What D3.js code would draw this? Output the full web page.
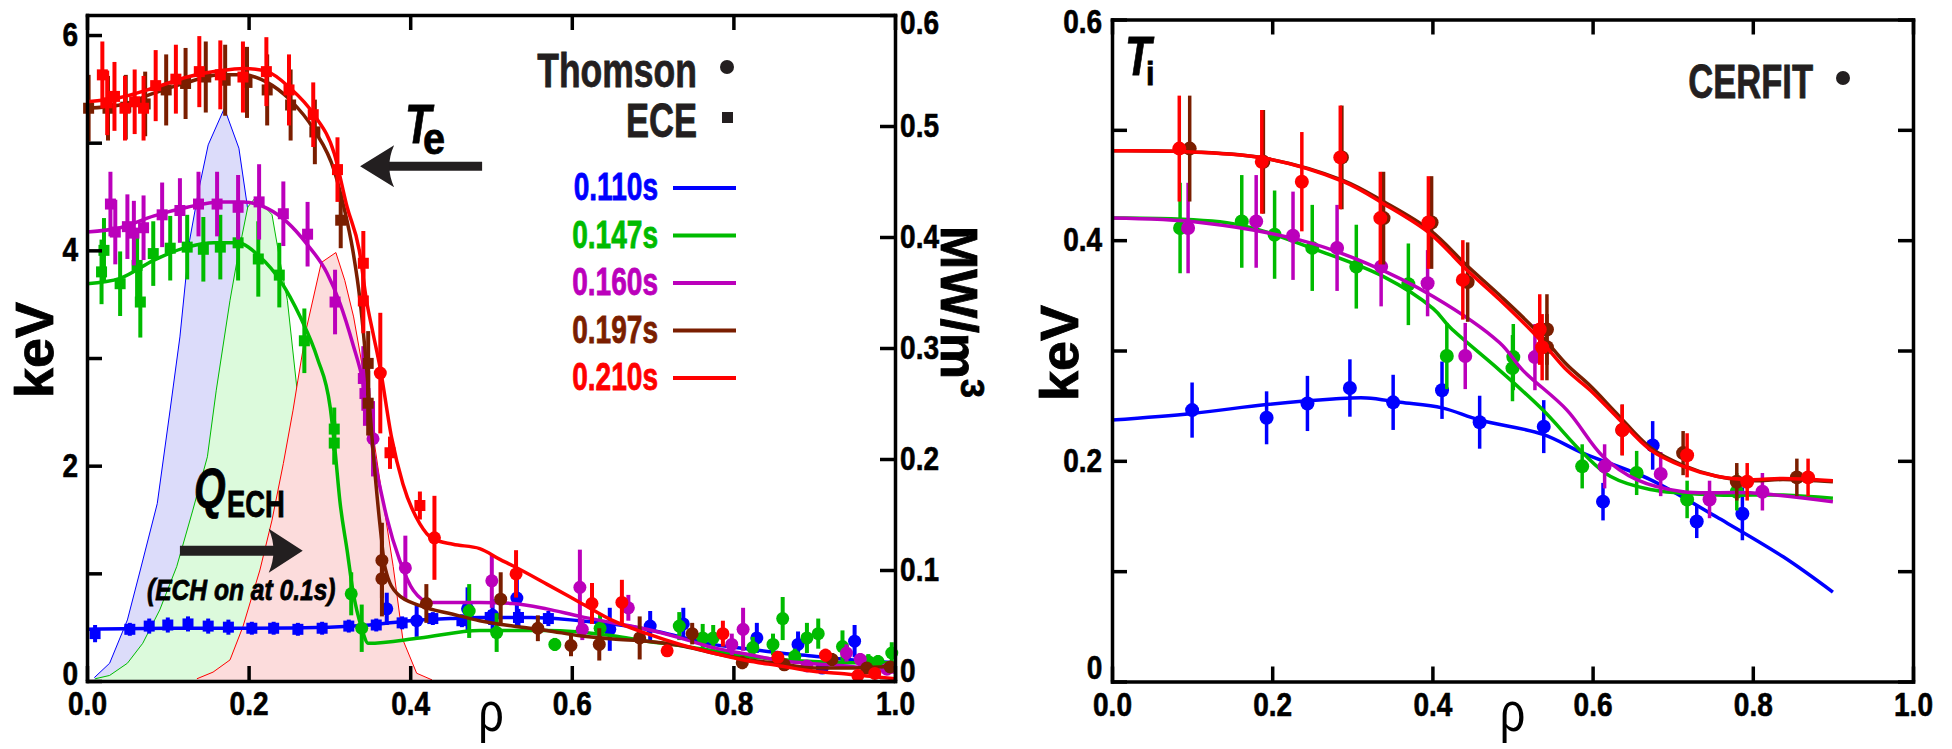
<!DOCTYPE html>
<html>
<head>
<meta charset="utf-8">
<script src="https://cdn.jsdelivr.net/npm/d3@7"></script>
<style>
  body { margin: 0; background: #fff; }
  text { font-family: "Liberation Sans", Arial, sans-serif; font-weight: bold; }
</style>
</head>
<body>
<div id="chart"></div>
<script>
// ---- data ----
const timeLabels = ["0.110s", "0.147s", "0.160s", "0.197s", "0.210s"];
const rhoTicks = [0, 0.2, 0.4, 0.6, 0.8, 1.0];
const teTicks = [0, 1, 2, 3, 4, 5, 6];
const qTicks = [0, 0.1, 0.2, 0.3, 0.4, 0.5, 0.6];
const tiTicks = [0, 0.1, 0.2, 0.3, 0.4, 0.5, 0.6];

// Te from ECE: [rho, keV, error]
const ece110 = [[0.01,0.44,0.08],[0.053,0.48,0.06],[0.077,0.51,0.07],[0.10,0.52,0.07],[0.125,0.53,0.07],[0.15,0.51,0.07],[0.175,0.50,0.07],[0.204,0.49,0.06],[0.231,0.49,0.06],[0.261,0.48,0.06],[0.291,0.49,0.06],[0.324,0.51,0.06],[0.358,0.52,0.06],[0.39,0.54,0.06],[0.428,0.58,0.06],[0.464,0.56,0.06],[0.499,0.59,0.07],[0.534,0.59,0.08],[0.571,0.58,0.07]];
const ece147 = [[0.018,3.80,0.3],[0.021,4.0,0.3],[0.041,3.69,0.3],[0.062,3.86,0.33],[0.066,3.52,0.33],[0.082,3.97,0.3],[0.103,4.02,0.3],[0.124,4.03,0.3],[0.144,4.01,0.3],[0.165,4.03,0.3],[0.187,4.07,0.35],[0.212,3.92,0.35],[0.238,3.77,0.3],[0.269,3.16,0.3],[0.306,2.34,0.2],[0.306,2.21,0.2]];
const ece160 = [[0.029,4.43,0.3],[0.035,4.17,0.3],[0.05,4.22,0.3],[0.058,4.16,0.3],[0.07,4.21,0.3],[0.093,4.33,0.3],[0.115,4.37,0.3],[0.138,4.43,0.3],[0.161,4.43,0.3],[0.187,4.40,0.3],[0.213,4.45,0.35],[0.243,4.34,0.3],[0.273,4.15,0.3],[0.307,3.52,0.3],[0.342,2.81,0.3],[0.344,2.67,0.3]];
const ece197 = [[0.002,5.32,0.31],[0.026,5.32,0.3],[0.048,5.33,0.3],[0.072,5.36,0.3],[0.098,5.49,0.33],[0.122,5.55,0.33],[0.147,5.61,0.33],[0.171,5.58,0.33],[0.198,5.56,0.33],[0.223,5.49,0.33],[0.252,5.35,0.33],[0.282,5.10,0.3],[0.314,4.28,0.26],[0.348,2.95,0.3],[0.348,2.58,0.3]];
const ece210 = [[0.019,5.63,0.31],[0.025,5.37,0.3],[0.034,5.43,0.32],[0.047,5.32,0.3],[0.059,5.38,0.3],[0.070,5.32,0.3],[0.085,5.53,0.33],[0.11,5.59,0.32],[0.139,5.66,0.33],[0.165,5.63,0.32],[0.193,5.61,0.33],[0.222,5.66,0.32],[0.25,5.49,0.33],[0.28,5.26,0.3],[0.31,4.75,0.3],[0.342,3.88,0.3],[0.342,3.53,0.3],[0.375,2.12,0.15],[0.412,1.63,0.13]];

// Te from Thomson: [rho, keV, error]
const ts110 = [[0.371,0.67,0.15],[0.408,0.56,0.15],[0.471,0.67,0.2],[0.502,0.61,0.15],[0.532,0.77,0.25],[0.647,0.48,0.2],[0.697,0.51,0.14],[0.738,0.53,0.15],[0.829,0.40,0.14],[0.88,0.34,0.12],[0.91,0.12,0.05],[0.95,0.37,0.15]];
const ts147 = [[0.327,0.81,0.2],[0.34,0.49,0.22],[0.473,0.65,0.25],[0.507,0.45,0.18],[0.579,0.34,0.06],[0.635,0.49,0.14],[0.733,0.51,0.13],[0.762,0.40,0.13],[0.775,0.40,0.12],[0.824,0.31,0.1],[0.849,0.34,0.1],[0.861,0.58,0.2],[0.876,0.23,0.07],[0.891,0.40,0.14],[0.905,0.44,0.14],[0.935,0.32,0.15],[0.967,0.18,0.07],[0.979,0.18,0.06],[0.996,0.26,0.1]];
const ts160 = [[0.354,2.25,0.35],[0.394,1.05,0.3],[0.501,0.93,0.25],[0.61,0.87,0.35],[0.613,0.48,0.1],[0.67,0.68,0.12],[0.798,0.34,0.1],[0.812,0.48,0.2],[0.891,0.14,0.05],[0.94,0.26,0.08],[0.957,0.20,0.06],[0.99,0.11,0.04]];
const ts197 = [[0.365,1.12,0.35],[0.365,0.95,0.35],[0.42,0.72,0.18],[0.512,0.76,0.25],[0.558,0.49,0.12],[0.599,0.33,0.1],[0.634,0.34,0.15],[0.684,0.40,0.2],[0.749,0.44,0.1],[0.811,0.17,0.06],[0.863,0.15,0.05],[0.922,0.20,0.06],[0.965,0.12,0.05],[0.994,0.13,0.05]];
const ts210 = [[0.363,2.86,0.56],[0.43,1.33,0.39],[0.531,0.995,0.22],[0.625,0.72,0.19],[0.662,0.73,0.21],[0.718,0.28,0.05],[0.787,0.44,0.12],[0.855,0.22,0.05],[0.914,0.24,0.06],[0.954,0.05,0.04],[0.975,0.07,0.04]];

// Te fits: [rho, keV]
const teFit110 = [[0,0.48],[0.1,0.49],[0.2,0.49],[0.3,0.5],[0.35,0.52],[0.4,0.56],[0.45,0.58],[0.486,0.59],[0.55,0.59],[0.61,0.56],[0.65,0.53],[0.693,0.48],[0.734,0.41],[0.775,0.34],[0.816,0.3],[0.858,0.26],[0.9,0.23],[0.94,0.2],[1.0,0.17]];
const teFit147 = [[0,3.69],[0.041,3.74],[0.083,3.91],[0.124,4.03],[0.157,4.07],[0.186,4.07],[0.214,3.94],[0.239,3.72],[0.264,3.38],[0.285,3.0],[0.301,2.54],[0.307,2.14],[0.313,1.67],[0.322,1.21],[0.329,0.84],[0.34,0.49],[0.348,0.35],[0.412,0.40],[0.486,0.47],[0.569,0.47],[0.651,0.42],[0.693,0.37],[0.734,0.33],[0.775,0.28],[0.816,0.23],[0.858,0.20],[0.899,0.18],[0.94,0.17],[1.0,0.17]];
const teFit160 = [[0,4.17],[0.041,4.21],[0.083,4.32],[0.124,4.40],[0.165,4.45],[0.194,4.45],[0.223,4.39],[0.248,4.26],[0.272,4.06],[0.297,3.79],[0.313,3.51],[0.329,3.13],[0.342,2.76],[0.354,2.14],[0.371,1.52],[0.387,1.12],[0.404,0.84],[0.425,0.73],[0.486,0.73],[0.527,0.72],[0.569,0.67],[0.61,0.6],[0.651,0.54],[0.693,0.48],[0.734,0.40],[0.775,0.31],[0.816,0.25],[0.858,0.19],[0.899,0.16],[0.94,0.14],[1.0,0.08]];
const teFit197 = [[0,5.32],[0.041,5.35],[0.083,5.46],[0.124,5.56],[0.165,5.63],[0.194,5.63],[0.223,5.56],[0.251,5.40],[0.281,5.12],[0.306,4.74],[0.318,4.4],[0.329,4.0],[0.338,3.53],[0.346,2.91],[0.354,2.14],[0.363,1.42],[0.369,1.05],[0.384,0.81],[0.412,0.70],[0.453,0.62],[0.486,0.56],[0.527,0.51],[0.569,0.47],[0.61,0.42],[0.651,0.39],[0.693,0.37],[0.734,0.33],[0.775,0.26],[0.816,0.2],[0.858,0.16],[0.899,0.12],[0.94,0.12],[1.0,0.14]];
const teFit210 = [[0,5.38],[0.041,5.42],[0.083,5.51],[0.124,5.61],[0.165,5.67],[0.194,5.69],[0.223,5.66],[0.251,5.51],[0.281,5.26],[0.306,4.9],[0.322,4.4],[0.337,4.0],[0.346,3.53],[0.354,3.23],[0.363,2.9],[0.377,2.26],[0.391,1.83],[0.412,1.46],[0.428,1.32],[0.453,1.27],[0.486,1.23],[0.511,1.13],[0.527,1.07],[0.569,0.9],[0.61,0.73],[0.651,0.56],[0.693,0.44],[0.734,0.34],[0.775,0.26],[0.816,0.19],[0.858,0.14],[0.899,0.09],[0.94,0.065],[1.0,0.02]];

// ECH power deposition: [rho, MW/m3]
const qech110 = [[0.009,0.003],[0.028,0.016],[0.05,0.055],[0.066,0.10],[0.087,0.16],[0.103,0.245],[0.115,0.31],[0.127,0.397],[0.139,0.445],[0.150,0.483],[0.170,0.516],[0.188,0.48],[0.198,0.43],[0.214,0.34],[0.23,0.25],[0.25,0.14],[0.27,0.06],[0.29,0.015],[0.31,0]];
const qech147 = [[0.01,0.002],[0.028,0.005],[0.05,0.016],[0.069,0.034],[0.09,0.064],[0.111,0.103],[0.131,0.154],[0.149,0.202],[0.16,0.262],[0.177,0.343],[0.186,0.38],[0.199,0.427],[0.209,0.436],[0.229,0.42],[0.238,0.382],[0.248,0.343],[0.26,0.262],[0.28,0.17],[0.30,0.09],[0.32,0.04],[0.34,0.01],[0.36,0]];
const qech210 = [[0.136,0.002],[0.156,0.008],[0.177,0.019],[0.193,0.049],[0.214,0.1],[0.229,0.145],[0.243,0.196],[0.255,0.244],[0.261,0.271],[0.272,0.319],[0.29,0.377],[0.308,0.386],[0.319,0.361],[0.33,0.328],[0.346,0.262],[0.363,0.178],[0.379,0.103],[0.391,0.037],[0.408,0.007],[0.427,0.001]];

// Ti from CER: [rho, keV, error]
const cer110 = [[0.1,0.246,0.025],[0.193,0.239,0.024],[0.244,0.252,0.025],[0.297,0.266,0.026],[0.351,0.253,0.025],[0.412,0.264,0.026],[0.459,0.235,0.024],[0.539,0.231,0.024],[0.613,0.163,0.017],[0.675,0.214,0.022],[0.73,0.145,0.015],[0.787,0.152,0.024]];
const cer147 = [[0.085,0.411,0.041],[0.162,0.417,0.042],[0.203,0.405,0.04],[0.25,0.393,0.039],[0.305,0.376,0.038],[0.37,0.36,0.037],[0.418,0.295,0.03],[0.501,0.294,0.03],[0.5,0.284,0.03],[0.587,0.195,0.02],[0.655,0.189,0.02],[0.718,0.165,0.017],[0.78,0.172,0.017]];
const cer160 = [[0.095,0.411,0.041],[0.18,0.417,0.042],[0.226,0.404,0.04],[0.281,0.393,0.039],[0.336,0.376,0.036],[0.394,0.361,0.03],[0.441,0.295,0.03],[0.528,0.294,0.03],[0.615,0.195,0.02],[0.685,0.188,0.02],[0.746,0.165,0.017],[0.812,0.172,0.017]];
const cer197 = [[0.097,0.483,0.048],[0.189,0.471,0.047],[0.287,0.475,0.047],[0.339,0.42,0.042],[0.399,0.416,0.042],[0.444,0.362,0.036],[0.543,0.319,0.032],[0.543,0.303,0.03],[0.637,0.228,0.023],[0.713,0.207,0.02],[0.78,0.181,0.017],[0.855,0.185,0.017]];
const cer210 = [[0.084,0.483,0.048],[0.187,0.471,0.047],[0.237,0.453,0.045],[0.285,0.475,0.047],[0.335,0.42,0.042],[0.395,0.416,0.042],[0.438,0.364,0.036],[0.534,0.319,0.032],[0.537,0.303,0.03],[0.637,0.228,0.023],[0.718,0.205,0.02],[0.793,0.181,0.017],[0.869,0.185,0.017]];

// Ti fits: [rho, keV]
const tiFit110 = [[0,0.237],[0.1,0.243],[0.193,0.251],[0.276,0.256],[0.318,0.257],[0.36,0.253],[0.412,0.248],[0.459,0.237],[0.538,0.224],[0.588,0.207],[0.672,0.183],[0.755,0.149],[0.838,0.113],[0.9,0.081]];
const tiFit147 = [[0,0.42],[0.151,0.415],[0.256,0.391],[0.339,0.367],[0.401,0.338],[0.422,0.321],[0.484,0.282],[0.538,0.246],[0.588,0.207],[0.622,0.186],[0.672,0.174],[0.755,0.169],[0.838,0.169],[0.9,0.166]];
const tiFit160 = [[0,0.42],[0.11,0.416],[0.235,0.40],[0.318,0.379],[0.401,0.349],[0.484,0.307],[0.513,0.282],[0.568,0.246],[0.613,0.204],[0.655,0.183],[0.713,0.172],[0.797,0.171],[0.9,0.163]];
const tiFit197 = [[0,0.481],[0.1,0.48],[0.193,0.474],[0.289,0.454],[0.339,0.435],[0.397,0.409],[0.443,0.377],[0.484,0.35],[0.534,0.315],[0.568,0.287],[0.597,0.268],[0.630,0.243],[0.672,0.212],[0.713,0.196],[0.755,0.186],[0.797,0.182],[0.838,0.183],[0.9,0.181]];
const tiFit210 = [[0,0.481],[0.1,0.48],[0.193,0.474],[0.289,0.453],[0.339,0.433],[0.397,0.406],[0.443,0.373],[0.484,0.346],[0.534,0.31],[0.568,0.282],[0.597,0.264],[0.630,0.24],[0.672,0.21],[0.713,0.195],[0.755,0.186],[0.797,0.183],[0.838,0.184],[0.9,0.182]];

// ---- drawing ----
const colors = ["#0000ff", "#00bb00", "#bb00bb", "#7a1e00", "#ff0000"];
const fills = ["#dcdcfa", "#dcfadc", "#fcdcdc"];
const ink = "#231f20";

const teSeries = [
  { ece: ece110, ts: ts110, fit: teFit110 },
  { ece: ece147, ts: ts147, fit: teFit147 },
  { ece: ece160, ts: ts160, fit: teFit160 },
  { ece: ece197, ts: ts197, fit: teFit197 },
  { ece: ece210, ts: ts210, fit: teFit210 }
];
const tiSeries = [
  { cer: cer110, fit: tiFit110 },
  { cer: cer147, fit: tiFit147 },
  { cer: cer160, fit: tiFit160 },
  { cer: cer197, fit: tiFit197 },
  { cer: cer210, fit: tiFit210 }
];
const qechSeries = [qech110, qech147, qech210];
const qechColors = [colors[0], colors[1], colors[4]];

const width = 1952, height = 749;
const svg = d3.select("#chart").append("svg")
  .attr("width", width).attr("height", height)
  .style("background", "#fff");

const xL = d3.scaleLinear().domain([0, 1]).range([87, 895]);
const yTe = d3.scaleLinear().domain([0, 6.186]).range([681, 15]);
const yQ = d3.scaleLinear().domain([0, 0.6]).range([681, 15]);
const xR = d3.scaleLinear().domain([0, 1]).range([1112, 1913]);
const yTi = d3.scaleLinear().domain([0, 0.6]).range([681.5, 19.5]);

const fmt1 = d3.format(".1f");
const tickScale = 0.85; // labels in the figure use a condensed face

function styleAxis(g) {
  g.attr("font-family", null).attr("font-size", null);
  g.select(".domain").attr("stroke", "#000").attr("stroke-width", 3.5).attr("stroke-linecap", "square");
  g.selectAll(".tick line").attr("stroke", "#000").attr("stroke-width", 3.5);
  g.selectAll(".tick text").filter(function () { return this.textContent === ""; }).remove();
  g.selectAll(".tick text").attr("fill", "#000").attr("font-size", 33)
    .attr("stroke", "#000").attr("stroke-width", 0.6)
    .attr("transform", `scale(${tickScale},1)`);
}

function label(g, str, x, y, size, anchor, color, sx) {
  return g.append("text")
    .attr("transform", `translate(${x},${y}) scale(${sx || 1},1)`)
    .attr("text-anchor", anchor)
    .attr("font-size", size)
    .attr("fill", color)
    .attr("stroke", color).attr("stroke-width", 0.8)
    .text(str);
}

function arrow(g, x0, x1, y, head, half, thick) {
  const dir = Math.sign(x1 - x0);
  const back = x1 - dir * head;
  const notch = x1 - dir * head * 0.72;
  g.append("line").attr("x1", x0).attr("x2", notch).attr("y1", y).attr("y2", y)
    .attr("stroke", ink).attr("stroke-width", thick);
  g.append("path")
    .attr("d", `M${x1},${y} L${back},${y - half} Q${notch},${y} ${back},${y + half} Z`)
    .attr("fill", ink);
}

// ===== left panel: Te =====
const left = svg.append("g");

// ECH deposition areas
qechSeries.forEach((q, i) => {
  left.append("path").datum(q)
    .attr("d", d3.area().x(d => xL(d[0])).y0(yQ(0)).y1(d => yQ(d[1])))
    .attr("fill", fills[i]);
  left.append("path").datum(q)
    .attr("d", d3.line().x(d => xL(d[0])).y(d => yQ(d[1])))
    .attr("fill", "none").attr("stroke", qechColors[i]).attr("stroke-width", 1);
});

const teLine = d3.line().x(d => xL(d[0])).y(d => yTe(d[1])).curve(d3.curveMonotoneX);

teSeries.forEach((s, i) => {
  const c = colors[i];
  const g = left.append("g");
  const pts = s.ece.concat(s.ts);
  g.selectAll(".err").data(pts).enter().append("line")
    .attr("x1", d => xL(d[0])).attr("x2", d => xL(d[0]))
    .attr("y1", d => yTe(d[1] - d[2])).attr("y2", d => yTe(d[1] + d[2]))
    .attr("stroke", c).attr("stroke-width", 4);
  g.selectAll(".sq").data(s.ece).enter().append("rect")
    .attr("x", d => xL(d[0]) - 5.5).attr("y", d => yTe(d[1]) - 5.5)
    .attr("width", 11).attr("height", 11).attr("fill", c);
  g.selectAll(".dot").data(s.ts).enter().append("circle")
    .attr("cx", d => xL(d[0])).attr("cy", d => yTe(d[1])).attr("r", 6.5).attr("fill", c);
  g.append("path").datum(s.fit).attr("d", teLine)
    .attr("fill", "none").attr("stroke", c).attr("stroke-width", 3.5);
});

// axes / frame
left.append("g").attr("transform", `translate(0,${yTe(0)})`)
  .call(d3.axisBottom(xL).tickValues(rhoTicks).tickSize(-15).tickSizeOuter(0).tickPadding(11).tickFormat(fmt1))
  .call(styleAxis);
left.append("g").attr("transform", `translate(0,${yTe.range()[1]})`)
  .call(d3.axisTop(xL).tickValues(rhoTicks).tickSize(-15).tickSizeOuter(0).tickFormat(""))
  .call(styleAxis);
const leftAx = left.append("g").attr("transform", `translate(${xL(0)},0)`)
  .call(d3.axisLeft(yTe).tickValues(teTicks).tickSize(-15).tickSizeOuter(0).tickPadding(10.5).tickFormat(d => d % 2 === 0 ? d : ""))
  .call(styleAxis);
leftAx.selectAll(".tick text").filter(d => d === 0).attr("dy", "0.1em");
const rightAx = left.append("g").attr("transform", `translate(${xL(1)},0)`)
  .call(d3.axisRight(yQ).tickValues(qTicks).tickSize(-15).tickSizeOuter(0).tickPadding(6).tickFormat(d => d === 0 ? "0" : fmt1(d)))
  .call(styleAxis);
rightAx.selectAll(".tick text").filter(d => d === 0).attr("dy", "0.0em");
rightAx.selectAll(".tick text").filter(d => d === 0.6).attr("dy", "0.55em");

// axis titles
left.append("text").attr("transform", `translate(53,350) rotate(-90)`)
  .attr("text-anchor", "middle").attr("font-size", 54)
  .attr("stroke", "#000").attr("stroke-width", 0.8).text("keV");
const mw = left.append("text").attr("transform", `translate(941,312) rotate(90)`)
  .attr("text-anchor", "middle").attr("font-size", 52)
  .attr("stroke", "#000").attr("stroke-width", 0.8);
mw.append("tspan").text("MW/m");
mw.append("tspan").attr("font-size", 34).attr("dy", -20).text("3");
label(left, "ρ", xL(0.5), 731, 56, "middle", "#000", 0.8)
  .style("font-weight", "normal").attr("stroke-width", 0);

// legend
label(left, "Thomson", 697, 87, 48, "end", ink, 0.74);
left.append("circle").attr("cx", 727).attr("cy", 67).attr("r", 7).attr("fill", ink);
label(left, "ECE", 697, 137, 48, "end", ink, 0.72);
left.append("rect").attr("x", 722).attr("y", 112).attr("width", 11).attr("height", 11).attr("fill", ink);
timeLabels.forEach((t, i) => {
  const yy = 188 + i * 47.5;
  label(left, t, 658, yy + 12, 39, "end", colors[i], 0.72);
  left.append("line").attr("x1", 673).attr("x2", 736).attr("y1", yy).attr("y2", yy)
    .attr("stroke", colors[i]).attr("stroke-width", 4);
});

// Te annotation
arrow(left, xL(0.489), xL(0.338), yTe(4.78), 34, 21, 9);
label(left, "T", 405, 143, 55, "start", "#000", 0.78).style("font-style", "italic");
label(left, "e", 423, 154, 44, "start", "#000", 0.9);

// Q_ECH annotation
arrow(left, xL(0.115), xL(0.267), yTe(1.21), 34, 22, 10);
label(left, "Q", 194, 507, 55, "start", "#000", 0.74).style("font-style", "italic");
label(left, "ECH", 227, 517, 37, "start", "#000", 0.74);
label(left, "(ECH on at 0.1s)", 147, 600, 30, "start", "#000", 0.82).style("font-style", "italic");

// ===== right panel: Ti =====
const right = svg.append("g");
const tiLine = d3.line().x(d => xR(d[0])).y(d => yTi(d[1])).curve(d3.curveCatmullRom.alpha(0.5));

tiSeries.forEach((s, i) => {
  const c = colors[i];
  const g = right.append("g");
  g.selectAll(".err").data(s.cer).enter().append("line")
    .attr("x1", d => xR(d[0])).attr("x2", d => xR(d[0]))
    .attr("y1", d => yTi(d[1] - d[2])).attr("y2", d => yTi(d[1] + d[2]))
    .attr("stroke", c).attr("stroke-width", 3.5);
  g.selectAll(".dot").data(s.cer).enter().append("circle")
    .attr("cx", d => xR(d[0])).attr("cy", d => yTi(d[1])).attr("r", 7).attr("fill", c);
  g.append("path").datum(s.fit).attr("d", tiLine)
    .attr("fill", "none").attr("stroke", c).attr("stroke-width", 3.5);
});

right.append("g").attr("transform", `translate(0,${yTi(0)})`)
  .call(d3.axisBottom(xR).tickValues(rhoTicks).tickSize(-15).tickSizeOuter(0).tickPadding(11).tickFormat(fmt1))
  .call(styleAxis);
right.append("g").attr("transform", `translate(0,${yTi.range()[1]})`)
  .call(d3.axisTop(xR).tickValues(rhoTicks).tickSize(-15).tickSizeOuter(0).tickFormat(""))
  .call(styleAxis);
const tiAx = right.append("g").attr("transform", `translate(${xR(0)},0)`)
  .call(d3.axisLeft(yTi).tickValues(tiTicks).tickSize(-15).tickSizeOuter(0).tickPadding(11.5)
    .tickFormat(d => [0, 0.2, 0.4, 0.6].includes(d) ? (d === 0 ? "0" : fmt1(d)) : ""))
  .call(styleAxis);
tiAx.selectAll(".tick text").filter(d => d === 0).attr("dy", "-0.1em");
tiAx.selectAll(".tick text").filter(d => d === 0.6).attr("dy", "0.4em");
right.append("g").attr("transform", `translate(${xR(1)},0)`)
  .call(d3.axisRight(yTi).tickValues(tiTicks).tickSize(-15).tickSizeOuter(0).tickFormat(""))
  .call(styleAxis);

right.append("text").attr("transform", `translate(1078,353) rotate(-90)`)
  .attr("text-anchor", "middle").attr("font-size", 54)
  .attr("stroke", "#000").attr("stroke-width", 0.8).text("keV");
label(right, "ρ", xR(0.5), 731, 56, "middle", "#000", 0.8)
  .style("font-weight", "normal").attr("stroke-width", 0);

label(right, "T", 1125, 75, 55, "start", "#000", 0.78).style("font-style", "italic");
label(right, "i", 1146, 85, 34, "start", "#000", 0.9);

label(right, "CERFIT", 1813, 98, 48, "end", ink, 0.72);
right.append("circle").attr("cx", 1843).attr("cy", 78).attr("r", 7).attr("fill", ink);
</script>
</body>
</html>
